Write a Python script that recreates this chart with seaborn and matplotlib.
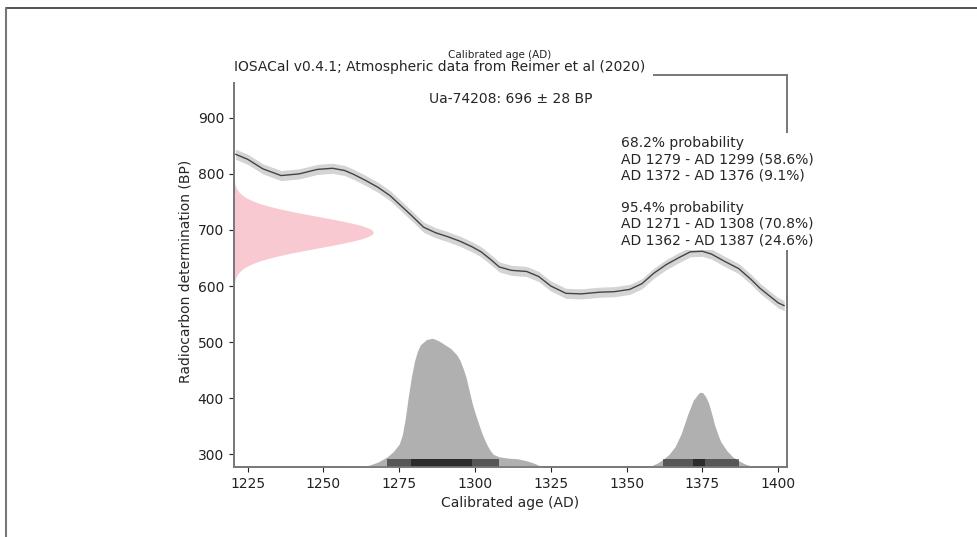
import numpy as np
import matplotlib
matplotlib.use("Agg")
import matplotlib.pyplot as plt
from matplotlib.lines import Line2D
import seaborn as sns

# calibration curve
curve_years = [1221, 1225, 1230, 1236, 1242, 1248, 1253, 1257, 1260, 1264, 1268, 1272,
               1275, 1279, 1283, 1287, 1291, 1295, 1299, 1302, 1305, 1308, 1312, 1317,
               1321, 1325, 1330, 1335, 1341, 1346, 1351, 1355, 1359, 1363, 1367, 1371,
               1375, 1378, 1382, 1387, 1391, 1394, 1397, 1400, 1402]
curve_bp = [835, 826, 809, 797, 800, 808, 810, 806, 799, 788, 776, 761,
            746, 726, 705, 695, 688, 680, 670, 661, 648, 634, 628, 626,
            617, 600, 587, 586, 589, 590, 594, 604, 623, 638, 650, 661,
            662, 657, 645, 631, 612, 596, 583, 570, 565]
curve_sigma = 9

# radiocarbon date
lab_id = "Ua-74208"
date_bp = 696
date_sigma = 28

# calibrated probability (relative)
prob_years = [1255, 1262, 1265, 1268, 1271, 1273, 1275, 1276, 1277, 1278, 1279, 1280,
              1281, 1282, 1284, 1286, 1288, 1290, 1292, 1294, 1295, 1296, 1297, 1298,
              1299, 1300, 1301, 1302, 1303, 1304, 1305, 1306, 1308, 1311, 1314, 1317,
              1319, 1321, 1323, 1326,
              1355, 1358, 1360, 1362, 1364, 1366, 1368, 1370, 1372, 1374, 1375, 1376,
              1377, 1378, 1379, 1380, 1381, 1383, 1385, 1387, 1389, 1391, 1394]
prob_vals = [0.0, 0.005, 0.015, 0.04, 0.08, 0.12, 0.18, 0.25, 0.38, 0.55, 0.7, 0.82,
             0.9, 0.95, 0.99, 1.0, 0.98, 0.95, 0.92, 0.87, 0.83, 0.77, 0.7, 0.6,
             0.5, 0.42, 0.35, 0.28, 0.22, 0.17, 0.13, 0.1, 0.08, 0.07, 0.065, 0.05,
             0.035, 0.015, 0.005, 0.0,
             0.0, 0.01, 0.03, 0.06, 0.1, 0.16, 0.26, 0.4, 0.52, 0.58, 0.58, 0.55,
             0.5, 0.42, 0.33, 0.26, 0.2, 0.13, 0.08, 0.05, 0.025, 0.01, 0.0]

int95 = [(1271, 1308), (1362, 1387)]
int68 = [(1279, 1299), (1372, 1376)]
summary = ["68.2% probability",
           "AD 1279 - AD 1299 (58.6%)",
           "AD 1372 - AD 1376 (9.1%)",
           "",
           "95.4% probability",
           "AD 1271 - AD 1308 (70.8%)",
           "AD 1362 - AD 1387 (24.6%)"]

sns.set_style("ticks")
plt.rcParams['font.family'] = ['DejaVu Sans']

fig = plt.figure(figsize=(9.78, 5.37), dpi=100)
ax = fig.add_axes([0.239, 0.130, 0.566, 0.730])

# calibration curve with band
cy = np.array(curve_bp)
ax.fill_between(curve_years, cy - curve_sigma, cy + curve_sigma, color='#d4d4d4', lw=0)
sns.lineplot(x=curve_years, y=curve_bp, ax=ax, color='#444444', lw=1.0)

# radiocarbon date as gaussian on the y axis
ys = np.linspace(date_bp - 4 * date_sigma, date_bp + 4 * date_sigma, 300)
g = np.exp(-0.5 * ((ys - date_bp) / date_sigma) ** 2)
xmin, xmax = 1220.4, 1403
ax.fill_betweenx(ys, xmin, xmin + g * 46, color='#f9c9d1', lw=0)

ax.set_xlim(xmin, xmax)
ax.set_ylim(277, 976)
ax.set_xticks([1225, 1250, 1275, 1300, 1325, 1350, 1375, 1400])
ax.set_yticks([300, 400, 500, 600, 700, 800, 900])
ax.set_xlabel("Calibrated age (AD)", fontsize=10)
ax.set_ylabel("Radiocarbon determination (BP)", fontsize=10)
ax.tick_params(labelsize=10, colors='#222222')
for s in ax.spines.values():
    s.set_color('#777777')
    s.set_linewidth(1.2)

# calibrated distribution on twin axis
ax2 = ax.twinx()
ax2.fill_between(prob_years, 0, prob_vals, color='#b0b0b0', lw=0)
ax2.set_ylim(0, 3.04)
ax2.set_yticks([])
for a, b in int95:
    ax2.axvspan(a, b, ymin=0, ymax=0.02, color='black', alpha=0.5, lw=0)
for a, b in int68:
    ax2.axvspan(a, b, ymin=0, ymax=0.02, color='black', alpha=0.5, lw=0)
for s in ax2.spines.values():
    s.set_color('#777777')
    s.set_linewidth(1.2)

ax2.text(0.5, 0.94, f"{lab_id}: {date_bp} \u00b1 {date_sigma} BP", transform=ax.transAxes,
         ha='center', va='center', fontsize=10)
ax2.text(0.70, 0.845, "\n".join(summary), transform=ax.transAxes, ha='left', va='top',
         fontsize=10, linespacing=1.2,
         bbox=dict(facecolor='white', edgecolor='none', pad=2))

fig.text(0.239, 0.875, "IOSACal v0.4.1; Atmospheric data from Reimer et al (2020)",
         ha='left', va='center', fontsize=10,
         bbox=dict(facecolor='white', edgecolor='none', pad=6))
fig.text(0.511, 0.898, "Calibrated age (AD)", ha='center', va='center', fontsize=7.5)

# outer frame
fig.add_artist(Line2D([6.5 / 978, 1], [1 - 8 / 537, 1 - 8 / 537], color='#444444', lw=1.3))
fig.add_artist(Line2D([6.5 / 978, 6.5 / 978], [0, 1 - 8 / 537], color='#777777', lw=1.5))

fig.savefig("out.png", dpi=100)
